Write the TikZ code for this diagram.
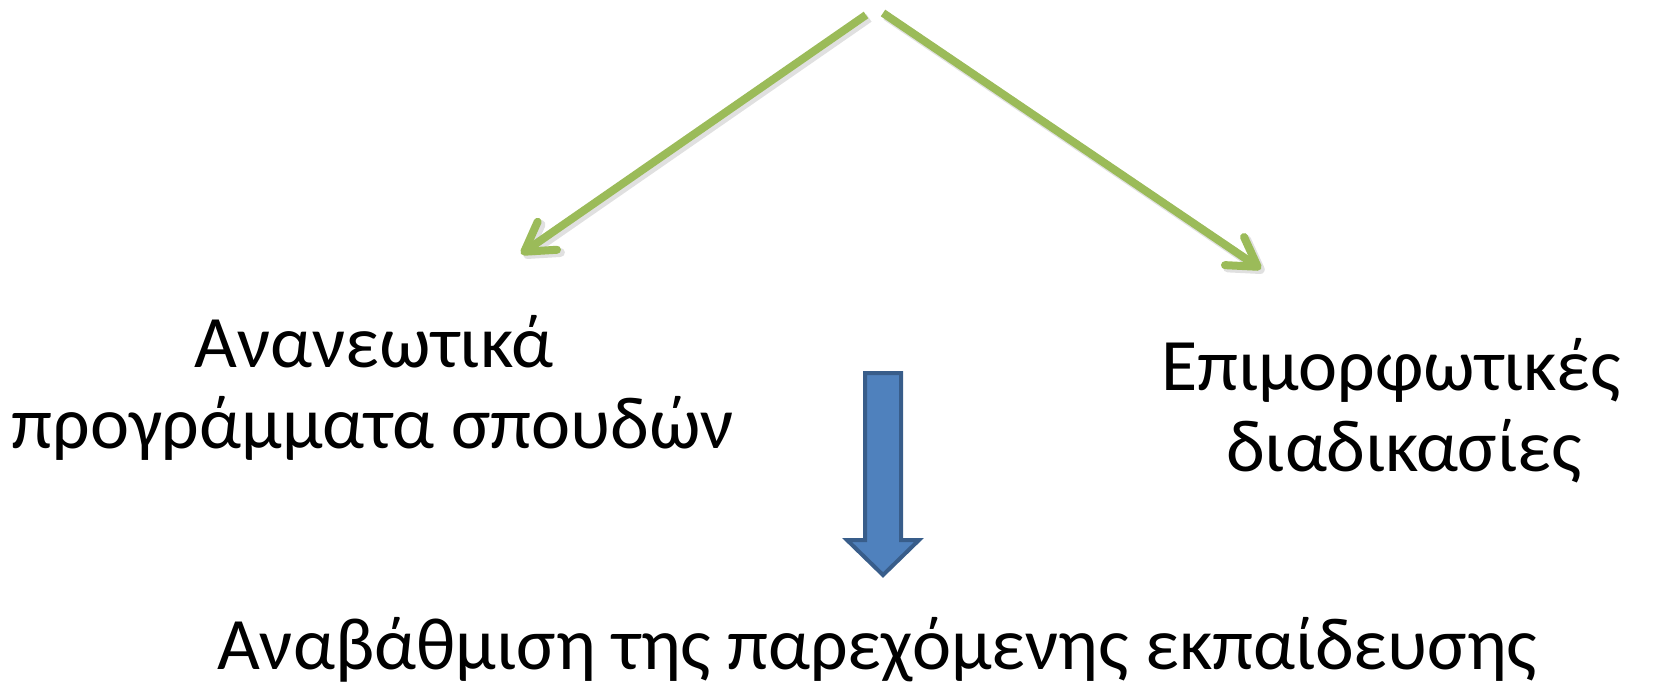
\documentclass[tikz,border=0pt]{standalone}
\usepackage{fontspec}
\setmainfont{Carlito}
\usetikzlibrary{arrows.meta}
\definecolor{arrowgreen}{HTML}{9BBB59}
\definecolor{blockfill}{HTML}{4F81BD}
\definecolor{blockline}{HTML}{385D8A}
\tikzset{
  txt/.style={anchor=base, inner sep=0pt, font=\fontsize{74}{74}\selectfont},
  txtbig/.style={anchor=base, inner sep=0pt, font=\fontsize{74}{74}\selectfont},
  greenarrow/.style={draw=arrowgreen, line width=8pt,
    -{Straight Barb[round, length=28pt, width=34pt]}},
  greenshadow/.style={draw=black, opacity=0.12, line width=9pt,
    -{Straight Barb[round, length=28pt, width=34pt]}},
  blockarrow/.style={fill=blockfill, draw=blockline, line width=4pt, line join=miter}
}
\begin{document}
\begin{tikzpicture}[x=1pt, y=-1pt]
\useasboundingbox (0,0) rectangle (1653,681);
% text
\node[txt] (l1) at (374,367) {Ανανεωτικά};
\node[txt] (l2) at (373,448) {προγράμματα σπουδών};
\node[txtbig] (r1) at (1391,390) {Επιμορφωτικές};
\node[txtbig] (r2) at (1404,471) {διαδικασίες};
\node[txt] (b1) at (877,669) {Αναβάθμιση της παρεχόμενης εκπαίδευσης};
% green arrows
\coordinate (sl) at (866,15);
\coordinate (tl) at (521,254);
\coordinate (sr) at (883,13);
\coordinate (tr) at (1261,269);
\coordinate (slS) at (869,18);
\coordinate (tlS) at (524,257);
\coordinate (srS) at (886,16);
\coordinate (trS) at (1264,272);
\draw[greenshadow] (slS) -- (tlS);
\draw[greenshadow] (srS) -- (trS);
\draw[greenarrow] (sl) -- (tl);
\draw[greenarrow] (sr) -- (tr);
% block arrow
\coordinate (ba1) at (865,373);
\coordinate (ba2) at (901,373);
\coordinate (ba3) at (901,540);
\coordinate (ba4) at (919,540);
\coordinate (ba5) at (883,575);
\coordinate (ba6) at (847,540);
\coordinate (ba7) at (865,540);
\draw[blockarrow] (ba1) -- (ba2) -- (ba3) -- (ba4) -- (ba5) -- (ba6) -- (ba7) -- cycle;
\end{tikzpicture}
\end{document}
